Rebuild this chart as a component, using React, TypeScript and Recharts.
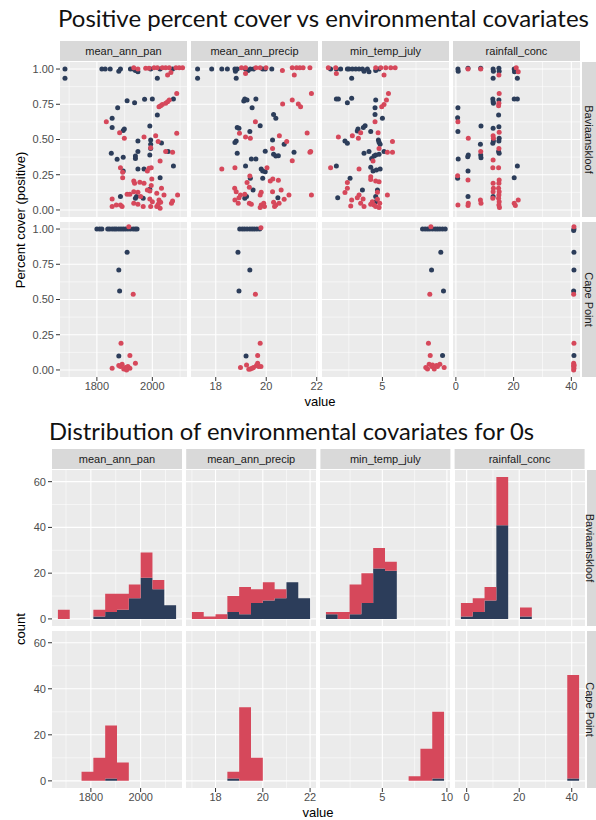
import React from 'react';
import { ScatterChart, Scatter, AreaChart, Area, XAxis, YAxis, CartesianGrid } from 'recharts';

type Pt = [number, number];

// ---------- facets ----------
const covariates = ['mean_ann_pan', 'mean_ann_precip', 'min_temp_july', 'rainfall_conc'];
const sites = ['Baviaanskloof', 'Cape Point'];

const NAVY = '#2c3d5a';
const RED = '#d6485b';

// ---------- axis breaks ----------
const coverTicks = [0, 0.25, 0.5, 0.75, 1];
const coverMinor = [0.125, 0.375, 0.625, 0.875];
const countTicks = [0, 20, 40, 60];
const countMinor = [10, 30, 50];

const topXDomains: [number, number][] = [[1667, 2125], [17.02, 22.05], [0.5, 9.96], [-1, 43]];
const topXTicks = [[1800, 2000], [18, 20, 22], [5], [0, 20, 40]];
const topXMinor = [[1700, 1900, 2100], [19, 21], [2.5, 7.5], [10, 30]];

const botXDomains: [number, number][] = [[1643.75, 2166.25], [16.75, 22.25], [0.17, 10.24], [-4.45, 45.05]];
const botXTicks = [[1800, 2000], [18, 20, 22], [5, 10], [0, 20, 40]];
const botXMinor = [[1700, 1900, 2100], [17, 19, 21], [2.5, 7.5], [10, 30]];

// ---------- positive percent cover (x = covariate, y = cover) ----------
const panBavNavy: Pt[] = [[1685,1],[1685,0.934],[1818,1],[1830,1],[1848,1],[1879,0.985],[1885,1],[1921,1],[1931,1],[1939,0.99],[1948,0.98],[1994,1],[2028,1],[2073,1],[2018,0.934],[2076,0.787],[2000,0.787],[1972,0.785],[1909,0.775],[1936,0.761],[1875,0.726],[2018,0.674],[1855,0.65],[1855,0.586],[1991,0.596],[1899,0.574],[1895,0.563],[1948,0.489],[1994,0.496],[1994,0.466],[1994,0.437],[2033,0.475],[1852,0.402],[1873,0.359],[1895,0.374],[1939,0.383],[1939,0.366],[1948,0.414],[1991,0.39],[2057,0.414],[2076,0.312],[1895,0.277],[1948,0.291],[1970,0.291],[2028,0.229],[1991,0.147],[1943,0.095],[1885,0.095],[1939,0.083],[1967,0.083]];
const panBavRed: Pt[] = [[1933,1.01],[1976,1.005],[1988,1.005],[2006,1.01],[2018,1.01],[2036,1.01],[2048,1.01],[2061,1.01],[2085,1.01],[2097,1.01],[2109,1.01],[1948,1],[2055,0.957],[2067,0.976],[2088,0.827],[2061,0.78],[2055,0.768],[2048,0.757],[2036,0.749],[2030,0.74],[2024,0.733],[1834,0.626],[1882,0.548],[1899,0.508],[1970,0.518],[2012,0.527],[2021,0.485],[2088,0.544],[1994,0.442],[2048,0.414],[2073,0.409],[2028,0.348],[1885,0.3],[1893,0.267],[1893,0.229],[1988,0.296],[1996,0.3],[1982,0.277],[1998,0.22],[1933,0.206],[1936,0.189],[1955,0.196],[1970,0.189],[1996,0.173],[2033,0.154],[1982,0.142],[1991,0.135],[1909,0.111],[1919,0.111],[1933,0.13],[1948,0.125],[1958,0.095],[2091,0.106],[2042,0.106],[2016,0.118],[1855,0.078],[1991,0.078],[2000,0.059],[2024,0.071],[2030,0.054],[2069,0.047],[2073,0.064],[1855,0.024],[1870,0.035],[1885,0.035],[1891,0.024],[1933,0.047],[1948,0.04],[1967,0.024],[1994,0.024],[2016,0.024],[2021,0.04],[2028,0.012]];

const precipBavNavy: Pt[] = [[17.28,1],[17.28,0.934],[17.84,1],[18.24,1],[18.46,1],[18.76,1],[18.78,0.985],[18.85,1],[18.81,0.934],[19.18,1],[19.28,0.99],[19.37,1],[19.5,1],[19.86,1],[19.96,1],[20.22,1],[19.15,0.787],[19.24,0.78],[19.11,0.773],[19.59,0.787],[19.44,0.726],[20.29,0.678],[20.38,0.65],[19.76,0.598],[18.85,0.586],[18.92,0.579],[19.35,0.556],[18.81,0.489],[18.76,0.478],[20.25,0.496],[20.71,0.466],[18.85,0.402],[19.96,0.416],[20.29,0.395],[20.38,0.383],[20.48,0.385],[21.1,0.409],[19.41,0.362],[19.59,0.362],[19.18,0.312],[19.8,0.291],[19.86,0.277],[19.96,0.272],[19.37,0.225],[19.86,0.225],[19.48,0.142],[19.22,0.095],[19.15,0.083],[20.46,0.087]];
const precipBavRed: Pt[] = [[19.02,1.01],[19.18,1.01],[19.18,0.969],[19.59,1.01],[19.76,1.01],[19.99,1.01],[20.64,0.99],[21.03,1.01],[21.2,1.01],[21.33,1.01],[21.46,1.01],[21.73,1.01],[21.11,0.957],[21.79,0.827],[21.03,0.78],[20.65,0.752],[21.27,0.752],[21.36,0.733],[19.57,0.626],[18.94,0.544],[19.18,0.518],[19.37,0.508],[20.52,0.527],[21.62,0.546],[20.81,0.485],[20.25,0.437],[21.76,0.414],[21.73,0.409],[21.03,0.35],[18.24,0.291],[18.76,0.3],[20.03,0.3],[19.35,0.241],[20.26,0.22],[20.16,0.206],[20.48,0.21],[19.24,0.194],[19.33,0.161],[18.75,0.154],[18.81,0.13],[18.98,0.106],[19.15,0.111],[18.92,0.087],[19.8,0.125],[19.76,0.106],[20.25,0.13],[20.59,0.142],[20.71,0.076],[20.9,0.106],[21.79,0.106],[18.76,0.071],[18.89,0.047],[19.33,0.047],[19.41,0.04],[19.8,0.035],[19.9,0.047],[19.93,0.024],[19.76,0.017],[20.29,0.054],[20.38,0.035],[20.33,0.024],[20.51,0.047]];

const tempBavNavy: Pt[] = [[1.14,1],[1.57,1],[1.89,1],[2.39,1],[2.51,1],[2.76,1],[3.01,1],[3.26,1],[3.51,1],[3.63,0.985],[3.88,1],[4.0,0.98],[4.5,0.99],[4.75,1],[2.71,0.934],[4.5,0.78],[1.57,0.787],[1.72,0.787],[2.71,0.792],[2.39,0.761],[4.45,0.726],[4.45,0.678],[5.0,0.65],[3.71,0.598],[3.58,0.586],[3.18,0.574],[3.13,0.56],[4.13,0.556],[4.7,0.496],[4.75,0.48],[4.83,0.466],[2.21,0.489],[2.39,0.473],[3.63,0.402],[4.0,0.414],[4.2,0.366],[4.38,0.383],[4.5,0.39],[4.75,0.395],[5.12,0.414],[1.57,0.312],[4.13,0.303],[4.3,0.277],[4.55,0.284],[4.83,0.291],[2.59,0.225],[3.51,0.142],[1.67,0.087],[4.63,0.142],[4.5,0.095],[4.5,0.059]];
const tempBavRed: Pt[] = [[0.97,1.01],[1.52,1.01],[1.57,0.969],[4.5,1.01],[4.88,1.01],[5.25,1.01],[5.62,1.01],[5.95,1.01],[5.12,0.957],[5.45,0.827],[5.3,0.78],[5.12,0.749],[4.95,0.733],[4.45,0.626],[3.38,0.548],[4.68,0.548],[1.72,0.518],[2.76,0.527],[3.21,0.508],[5.75,0.485],[4.75,0.437],[5.37,0.409],[5.75,0.409],[4.3,0.348],[1.14,0.3],[3.26,0.291],[4.13,0.236],[2.39,0.194],[4.75,0.201],[4.5,0.206],[4.13,0.217],[2.39,0.154],[2.21,0.123],[3.26,0.106],[3.13,0.087],[4.63,0.125],[5.37,0.106],[4.63,0.076],[4.25,0.059],[2.71,0.071],[2.64,0.028],[3.38,0.047],[3.63,0.024],[4.13,0.04],[4.38,0.035],[4.5,0.024],[4.75,0.017],[4.8,0.047],[3.56,0.078]];

const rainBavNavy: Pt[] = [[0.7,1],[0.8,0.985],[0.7,0.726],[0.6,0.655],[0.7,0.556],[0.8,0.362],[0.6,0.225],[4.2,1.005],[4.3,0.39],[4.1,0.378],[4.2,0.277],[4.2,0.095],[8.6,1.005],[8.7,0.596],[8.5,0.466],[8.6,0.39],[8.7,0.371],[12.9,1],[13.0,0.985],[12.9,0.934],[12.8,0.787],[12.9,0.768],[13.0,0.757],[12.9,0.579],[13.0,0.489],[12.8,0.473],[12.9,0.095],[14.9,1.005],[15.0,0.985],[14.9,0.78],[14.8,0.674],[14.9,0.591],[15.0,0.508],[14.9,0.489],[14.8,0.414],[15.0,0.402],[20.2,1],[20.3,0.98],[21.3,0.934],[20.2,0.787],[21.3,0.787],[21.3,0.312],[20.2,0.229]];
const rainBavRed: Pt[] = [[0.7,0.626],[0.6,0.243],[0.7,0.035],[4.2,1],[4.3,0.508],[4.2,0.213],[4.3,0.047],[4.2,0.031],[8.6,1],[8.6,0.414],[8.5,0.071],[8.7,0.047],[12.9,0.527],[13.0,0.508],[12.9,0.355],[12.8,0.3],[12.9,0.189],[13.0,0.154],[12.9,0.13],[12.8,0.083],[14.9,0.957],[15.0,0.827],[14.9,0.757],[14.8,0.74],[15.0,0.551],[14.9,0.437],[14.8,0.3],[15.0,0.213],[14.9,0.189],[14.8,0.154],[15.0,0.13],[14.9,0.106],[14.8,0.083],[15.0,0.059],[14.9,0.035],[15.1,0.017],[20.9,1.01],[21.6,0.98],[20.2,0.047],[20.6,0.031],[21.6,0.071]];

const panCapeNavy: Pt[] = [[1800,1],[1810,1],[1818,1],[1839,1],[1846,1],[1855,1],[1863,1],[1870,1],[1879,1],[1887,1],[1895,1],[1903,1],[1912,1],[1921,1],[1931,1],[1939,1],[1945,1],[1909,0.835],[1879,0.709],[1882,0.56],[1879,0.099]];
const panCapeRed: Pt[] = [[1915,1.017],[1931,0.537],[1887,0.189],[1919,0.102],[1855,0.012],[1879,0.031],[1885,0.024],[1897,0.007],[1903,0.017],[1912,0.024],[1919,0.012],[1939,0.047],[1891,0.04],[1907,0]];

const precipCapeNavy: Pt[] = [[18.95,1],[19.05,1],[19.14,1],[19.24,1],[19.35,1],[19.44,1],[19.53,1],[19.63,1],[19.74,1],[18.88,0.835],[19.35,0.709],[18.92,0.56],[19.2,0.099]];
const precipCapeRed: Pt[] = [[19.79,1.01],[19.57,0.537],[19.76,0.189],[19.66,0.102],[18.98,0.017],[19.22,0.035],[19.31,0.005],[19.37,0.007],[19.5,0.017],[19.61,0.031],[19.7,0.024],[19.79,0.024],[19.66,0.047],[19.44,0.012]];

const tempCapeNavy: Pt[] = [[7.99,1],[8.18,1],[8.36,1],[8.53,1],[8.73,1],[8.93,1],[9.1,1],[9.28,1],[9.48,1],[9.68,1],[9.35,0.835],[8.66,0.709],[9.55,0.56],[9.48,0.102]];
const tempCapeRed: Pt[] = [[8.61,1.017],[8.53,0.537],[8.43,0.189],[8.56,0.102],[8.23,0.017],[8.36,0.007],[8.48,0.04],[8.68,0.024],[8.86,0.007],[9.03,0.031],[9.28,0.04],[9.6,0.017],[8.73,0.035],[9.1,0.024]];

const rainCapeNavy: Pt[] = [[40.9,1],[40.8,0.99],[40.9,0.835],[40.9,0.709],[40.8,0.56],[40.9,0.102]];
const rainCapeRed: Pt[] = [[40.9,1.017],[40.8,0.537],[40.9,0.189],[40.8,0.047],[40.9,0.035],[40.8,0.024],[40.9,0.012],[40.8,0],[40.9,0.031]];

// ---------- histogram of zeros (bin edges, navy counts, red counts stacked on top) ----------
const panEdges = [1667.5, 1715, 1762.5, 1810, 1857.5, 1905, 1952.5, 2000, 2047.5, 2095, 2142.5];
const panBavNavyCounts = [0, 0, 0, 1, 3, 4, 9, 18, 13, 6];
const panBavRedCounts = [4, 0, 0, 3, 8, 7, 6, 11, 4, 0];
const panCapeNavyCounts = [0, 0, 0, 0, 1, 0, 0, 0, 0, 0];
const panCapeRedCounts = [0, 0, 4, 10, 23, 8, 0, 0, 0, 0];

const precipEdges = [17, 17.5, 18, 18.5, 19, 19.5, 20, 20.5, 21, 21.5, 22];
const precipBavNavyCounts = [0, 0, 0, 3, 2, 7, 8, 9, 16, 9];
const precipBavRedCounts = [3, 1, 2, 7, 12, 6, 8, 4, 0, 0];
const precipCapeNavyCounts = [0, 0, 0, 1, 0, 0, 0, 0, 0, 0];
const precipCapeRedCounts = [0, 0, 0, 3, 32, 10, 0, 0, 0, 0];

const tempEdges = [0.63, 1.545, 2.46, 3.375, 4.29, 5.205, 6.12, 7.035, 7.95, 8.865, 9.78];
const tempBavNavyCounts = [2, 0, 2, 7, 22, 21, 0, 0, 0, 0];
const tempBavRedCounts = [1, 3, 13, 13, 9, 4, 0, 0, 0, 0];
const tempCapeNavyCounts = [0, 0, 0, 0, 0, 0, 0, 0, 0, 1];
const tempCapeRedCounts = [0, 0, 0, 0, 0, 0, 0, 2, 14, 29];

const rainEdges = [-2.2, 2.3, 6.8, 11.3, 15.8, 20.3, 24.8, 29.3, 33.8, 38.3, 42.8];
const rainBavNavyCounts = [1, 3, 8, 41, 0, 1, 0, 0, 0, 0];
const rainBavRedCounts = [6, 6, 6, 21, 0, 4, 0, 0, 0, 0];
const rainCapeNavyCounts = [0, 0, 0, 0, 0, 0, 0, 0, 0, 1];
const rainCapeRedCounts = [0, 0, 0, 0, 0, 0, 0, 0, 0, 45];

const scatterSets: [Pt[], Pt[]][][] = [
  [[panBavNavy, panBavRed], [precipBavNavy, precipBavRed], [tempBavNavy, tempBavRed], [rainBavNavy, rainBavRed]],
  [[panCapeNavy, panCapeRed], [precipCapeNavy, precipCapeRed], [tempCapeNavy, tempCapeRed], [rainCapeNavy, rainCapeRed]],
];
const histEdges = [panEdges, precipEdges, tempEdges, rainEdges];
const histSets: [number[], number[]][][] = [
  [[panBavNavyCounts, panBavRedCounts], [precipBavNavyCounts, precipBavRedCounts], [tempBavNavyCounts, tempBavRedCounts], [rainBavNavyCounts, rainBavRedCounts]],
  [[panCapeNavyCounts, panCapeRedCounts], [precipCapeNavyCounts, precipCapeRedCounts], [tempCapeNavyCounts, tempCapeRedCounts], [rainCapeNavyCounts, rainCapeRedCounts]],
];

// ---------- layout ----------
const FONT = "'Liberation Sans', Arial, sans-serif";
const TITLE_FONT = "Lato, 'Open Sans', sans-serif";
const tickStyle = { fill: '#4D4D4D', fontSize: 11, fontFamily: FONT };
const PAD_R = 12; // room for tick labels that sit on a panel's right edge

const TOP = { lefts: [60, 191, 322, 453], width: 127, rowTops: [62, 222], rowH: 155, stripTop: 41, stripH: 20, yW: 50, xH: 22 };
const BOT = { lefts: [52, 186.2, 320.4, 454.6], width: 130, rowTops: [470, 631], rowHs: [156, 157], stripTop: 449, stripH: 20, yW: 42, xH: 22 };

const dot = (color: string) => (p: any) => <circle cx={p.cx} cy={p.cy} r={2.5} fill={color} />;

function ScatterPanel(props: {
  left: number; top: number; width: number; height: number;
  navy: Pt[]; red: Pt[]; xDomain: [number, number]; xTicks: number[]; xMinor: number[];
  showX: boolean; showY: boolean;
}) {
  const { left, top, width, height, navy, red, xDomain, xTicks, xMinor, showX, showY } = props;
  const yW = showY ? TOP.yW : 0;
  const xH = showX ? TOP.xH : 0;
  const padR = showX ? PAD_R : 0;
  const w = width + yW + padR;
  const h = height + xH;
  return (
    <div style={{ position: 'absolute', left: left - yW, top, width: w, height: h }}>
      <ScatterChart width={w} height={h} margin={{ top: 0, right: padR, bottom: 0, left: 0 }}>
        <CartesianGrid fill="#EBEBEB" stroke="#FFFFFF" strokeWidth={0.55} horizontalValues={coverMinor} verticalValues={xMinor} />
        <CartesianGrid stroke="#FFFFFF" strokeWidth={1.1} horizontalValues={coverTicks} verticalValues={xTicks} />
        <XAxis type="number" dataKey="x" domain={xDomain} ticks={xTicks} interval={0} allowDataOverflow hide={!showX}
          height={TOP.xH} tick={tickStyle} tickLine={{ stroke: '#333333' }} axisLine={false} tickSize={4} tickMargin={1} />
        <YAxis type="number" dataKey="y" domain={[-0.05, 1.05]} ticks={coverTicks} interval={0} allowDataOverflow hide={!showY}
          width={TOP.yW} tick={tickStyle} tickLine={{ stroke: '#333333' }} axisLine={false} tickSize={4} tickMargin={2}
          tickFormatter={(v: number) => v.toFixed(2)} />
        <Scatter data={navy.map(([x, y]) => ({ x, y }))} fill={NAVY} shape={dot(NAVY)} isAnimationActive={false} />
        <Scatter data={red.map(([x, y]) => ({ x, y }))} fill={RED} shape={dot(RED)} isAnimationActive={false} />
      </ScatterChart>
    </div>
  );
}

function HistPanel(props: {
  left: number; top: number; width: number; height: number;
  edges: number[]; navy: number[]; red: number[]; xDomain: [number, number]; xTicks: number[]; xMinor: number[];
  showX: boolean; showY: boolean;
}) {
  const { left, top, width, height, edges, navy, red, xDomain, xTicks, xMinor, showX, showY } = props;
  const yW = showY ? BOT.yW : 0;
  const xH = showX ? BOT.xH : 0;
  const padR = showX ? PAD_R : 0;
  const w = width + yW + padR;
  const h = height + xH;
  const rows = edges.map((x, i) => ({ x, navy: navy[i] ?? 0, red: red[i] ?? 0 }));
  return (
    <div style={{ position: 'absolute', left: left - yW, top, width: w, height: h }}>
      <AreaChart width={w} height={h} data={rows} margin={{ top: 0, right: padR, bottom: 0, left: 0 }}>
        <CartesianGrid fill="#EBEBEB" stroke="#FFFFFF" strokeWidth={0.55} horizontalValues={countMinor} verticalValues={xMinor} />
        <CartesianGrid stroke="#FFFFFF" strokeWidth={1.1} horizontalValues={countTicks} verticalValues={xTicks} />
        <XAxis type="number" dataKey="x" domain={xDomain} ticks={xTicks} interval={0} allowDataOverflow hide={!showX}
          height={BOT.xH} tick={tickStyle} tickLine={{ stroke: '#333333' }} axisLine={false} tickSize={4} tickMargin={1} />
        <YAxis type="number" domain={[-3.1, 65.1]} ticks={countTicks} interval={0} allowDataOverflow hide={!showY}
          width={BOT.yW} tick={tickStyle} tickLine={{ stroke: '#333333' }} axisLine={false} tickSize={4} tickMargin={2} />
        <Area type="stepAfter" dataKey="navy" stackId="s" stroke="none" fill={NAVY} fillOpacity={1} baseValue={0}
          dot={false} activeDot={false} isAnimationActive={false} />
        <Area type="stepAfter" dataKey="red" stackId="s" stroke="none" fill={RED} fillOpacity={1} baseValue={0}
          dot={false} activeDot={false} isAnimationActive={false} />
      </AreaChart>
    </div>
  );
}

export default function App() {
  return (
    <div style={{ position: 'absolute', left: 0, top: 0, width: 596, height: 820, overflow: 'hidden', background: '#ffffff' }}>
      <svg width={596} height={820} style={{ position: 'absolute', left: 0, top: 0 }}>
        <text x={58} y={27} fontFamily={TITLE_FONT} fontSize={24} fill="#111" textLength={531} lengthAdjust="spacingAndGlyphs">
          Positive percent cover vs environmental covariates
        </text>
        <text x={49} y={440} fontFamily={TITLE_FONT} fontSize={24} fill="#111" textLength={485} lengthAdjust="spacingAndGlyphs">
          Distribution of environmental covariates for 0s
        </text>

        {covariates.map((c, i) => (
          <g key={'ts' + c}>
            <rect x={TOP.lefts[i]} y={TOP.stripTop} width={TOP.width} height={TOP.stripH} fill="#D9D9D9" />
            <text x={TOP.lefts[i] + TOP.width / 2} y={TOP.stripTop + TOP.stripH / 2} textAnchor="middle" dominantBaseline="central"
              fontFamily={FONT} fontSize={11} fill="#1A1A1A">{c}</text>
          </g>
        ))}
        {covariates.map((c, i) => (
          <g key={'bs' + c}>
            <rect x={BOT.lefts[i]} y={BOT.stripTop} width={BOT.width} height={BOT.stripH} fill="#D9D9D9" />
            <text x={BOT.lefts[i] + BOT.width / 2} y={BOT.stripTop + BOT.stripH / 2} textAnchor="middle" dominantBaseline="central"
              fontFamily={FONT} fontSize={11} fill="#1A1A1A">{c}</text>
          </g>
        ))}

        {sites.map((s, r) => (
          <g key={'tr' + s}>
            <rect x={582} y={TOP.rowTops[r]} width={20} height={TOP.rowH} fill="#D9D9D9" />
            <text transform={`translate(588.5,${TOP.rowTops[r] + TOP.rowH / 2}) rotate(90)`} textAnchor="middle" dominantBaseline="central"
              fontFamily={FONT} fontSize={11} fill="#1A1A1A">{s}</text>
          </g>
        ))}
        {sites.map((s, r) => (
          <g key={'br' + s}>
            <rect x={587} y={BOT.rowTops[r]} width={20} height={BOT.rowHs[r]} fill="#D9D9D9" />
            <text transform={`translate(590,${BOT.rowTops[r] + BOT.rowHs[r] / 2}) rotate(90)`} textAnchor="middle" dominantBaseline="central"
              fontFamily={FONT} fontSize={11} fill="#1A1A1A">{s}</text>
          </g>
        ))}

        <text transform="translate(20,220) rotate(-90)" textAnchor="middle" dominantBaseline="central" fontFamily={FONT} fontSize={13} fill="#000">
          Percent cover (positive)
        </text>
        <text x={320} y={401} textAnchor="middle" dominantBaseline="central" fontFamily={FONT} fontSize={13} fill="#000">value</text>
        <text transform="translate(20,629) rotate(-90)" textAnchor="middle" dominantBaseline="central" fontFamily={FONT} fontSize={13} fill="#000">
          count
        </text>
        <text x={318} y={812} textAnchor="middle" dominantBaseline="central" fontFamily={FONT} fontSize={13} fill="#000">value</text>
      </svg>

      {scatterSets.map((row, r) =>
        row.map(([navy, red], c) => (
          <ScatterPanel key={`sp${r}${c}`} left={TOP.lefts[c]} top={TOP.rowTops[r]} width={TOP.width} height={TOP.rowH}
            navy={navy} red={red} xDomain={topXDomains[c]} xTicks={topXTicks[c]} xMinor={topXMinor[c]}
            showX={r === 1} showY={c === 0} />
        ))
      )}

      {histSets.map((row, r) =>
        row.map(([navy, red], c) => (
          <HistPanel key={`hp${r}${c}`} left={BOT.lefts[c]} top={BOT.rowTops[r]} width={BOT.width} height={BOT.rowHs[r]}
            edges={histEdges[c]} navy={navy} red={red} xDomain={botXDomains[c]} xTicks={botXTicks[c]} xMinor={botXMinor[c]}
            showX={r === 1} showY={c === 0} />
        ))
      )}
    </div>
  );
}
